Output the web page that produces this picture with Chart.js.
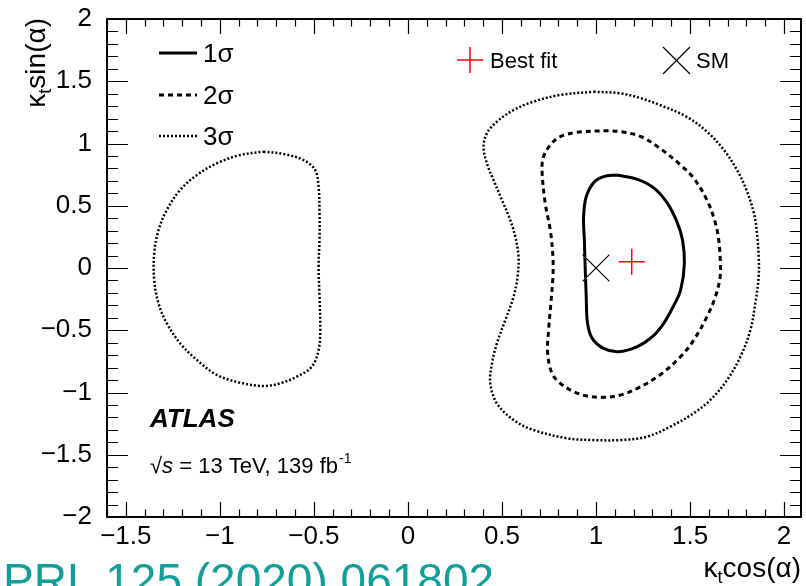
<!DOCTYPE html>
<html>
<head>
<meta charset="utf-8">
<script src="https://cdn.jsdelivr.net/npm/chart.js@4.4.1/dist/chart.umd.min.js"></script>
<style>
  html, body { margin: 0; padding: 0; background: #fff; }
  #wrap { width: 806px; height: 586px; position: relative; }
</style>
</head>
<body>
<div id="wrap"><canvas id="c" width="806" height="586"></canvas></div>
<script>
// axes
const xTicks = [-1.5, -1, -0.5, 0, 0.5, 1, 1.5, 2];
const yTicks = [-2, -1.5, -1, -0.5, 0, 0.5, 1, 1.5, 2];
const xRange = [-1.6, 2.09];
const yRange = [-2, 2];

// 1 sigma contour
const sigma1X = [1.11, 1.22, 1.31, 1.38, 1.43, 1.46, 1.47, 1.45, 1.41, 1.36, 1.30, 1.22, 1.12, 1.04, 0.98, 0.955, 0.948, 0.943, 0.938, 0.934, 0.948, 0.987, 1.04];
const sigma1Y = [0.747, 0.712, 0.64, 0.519, 0.372, 0.225, 0.037, -0.177, -0.311, -0.444, -0.552, -0.632, -0.672, -0.645, -0.565, -0.444, -0.23, -0.016, 0.225, 0.412, 0.573, 0.685, 0.734];

// 2 sigma contour
const sigma2X = [1.04, 1.13, 1.24, 1.34, 1.45, 1.52, 1.59, 1.63, 1.65, 1.66, 1.66, 1.635, 1.59, 1.52, 1.45, 1.34, 1.22, 1.13, 1.04, 0.952, 0.881, 0.81, 0.766, 0.743, 0.748, 0.76, 0.771, 0.771, 0.757, 0.73, 0.713, 0.721, 0.757, 0.81, 0.899];
const sigma2Y = [1.103, 1.095, 1.055, 0.961, 0.827, 0.72, 0.546, 0.386, 0.252, 0.091, -0.07, -0.23, -0.391, -0.578, -0.712, -0.859, -0.967, -1.02, -1.039, -1.028, -0.993, -0.926, -0.846, -0.685, -0.498, -0.284, -0.07, 0.091, 0.305, 0.519, 0.787, 0.894, 0.988, 1.055, 1.09];

// 3 sigma contour, right island
const sigma3RX = [0.987, 1.13, 1.24, 1.34, 1.48, 1.59, 1.68, 1.75, 1.80, 1.84, 1.856, 1.865, 1.865, 1.847, 1.821, 1.768, 1.697, 1.608, 1.519, 1.395, 1.271, 1.129, 0.987, 0.846, 0.668, 0.562, 0.473, 0.438, 0.447, 0.473, 0.518, 0.562, 0.583, 0.588, 0.571, 0.544, 0.5, 0.455, 0.42, 0.402, 0.42, 0.473, 0.562, 0.668, 0.81];
const sigma3RY = [1.416, 1.403, 1.363, 1.309, 1.216, 1.095, 0.948, 0.787, 0.627, 0.439, 0.278, 0.091, -0.07, -0.284, -0.498, -0.712, -0.9, -1.06, -1.167, -1.274, -1.355, -1.382, -1.382, -1.368, -1.301, -1.221, -1.087, -0.926, -0.766, -0.605, -0.418, -0.23, -0.07, 0.091, 0.252, 0.386, 0.546, 0.707, 0.84, 0.975, 1.082, 1.175, 1.269, 1.336, 1.39];

// 3 sigma contour, left island
const sigma3LX = [-0.768, -0.662, -0.555, -0.493, -0.475, -0.47, -0.47, -0.475, -0.47, -0.466, -0.475, -0.511, -0.591, -0.679, -0.768, -0.892, -1.016, -1.122, -1.211, -1.282, -1.326, -1.349, -1.349, -1.326, -1.282, -1.211, -1.122, -1.016, -0.892];
const sigma3LY = [0.934, 0.916, 0.867, 0.787, 0.653, 0.439, 0.225, 0.011, -0.23, -0.498, -0.659, -0.793, -0.873, -0.926, -0.948, -0.921, -0.859, -0.739, -0.605, -0.444, -0.284, -0.096, 0.118, 0.305, 0.466, 0.627, 0.747, 0.841, 0.908];

const bestFitX = [1.19];
const bestFitY = [0.05];
const smX = [1];
const smY = [0];

const FONT = '"Liberation Sans", Arial, Helvetica, sans-serif';

function loop(xs, ys) {
  const p = xs.map((x, i) => ({ x: x, y: ys[i] }));
  p.push({ x: xs[0], y: ys[0] });
  return p;
}
function pts(xs, ys) {
  return xs.map((x, i) => ({ x: x, y: ys[i] }));
}
function fmt(v) {
  return v < 0 ? '\u2212' + Math.abs(v) : String(v);
}

const contour = (label, data, width, dash) => ({
  label: label, data: data, showLine: true, fill: false,
  borderColor: '#000', borderWidth: width, borderDash: dash,
  pointRadius: 0, pointHoverRadius: 0, tension: 0.35
});

const frameAndText = {
  id: 'frameAndText',
  afterDraw(chart) {
    const ctx = chart.ctx;
    const a = chart.chartArea;
    const xs = chart.scales.x, ys = chart.scales.y;
    ctx.save();

    // inward ticks
    ctx.strokeStyle = '#000';
    ctx.lineWidth = 1.2;
    ctx.beginPath();
    for (let i = -16; i <= 20; i++) {
      const px = Math.round(xs.getPixelForValue(i / 10)) + 0.5;
      const len = i % 5 === 0 ? 15 : 7.5;
      ctx.moveTo(px, a.bottom); ctx.lineTo(px, a.bottom - len);
      ctx.moveTo(px, a.top); ctx.lineTo(px, a.top + len);
    }
    for (let i = -20; i <= 20; i++) {
      const py = Math.round(ys.getPixelForValue(i / 10)) + 0.5;
      const len = i % 5 === 0 ? 21 : 11;
      ctx.moveTo(a.left, py); ctx.lineTo(a.left + len, py);
      ctx.moveTo(a.right, py); ctx.lineTo(a.right - len, py);
    }
    ctx.stroke();

    // frame
    ctx.lineWidth = 2;
    ctx.strokeRect(a.left, a.top, a.right - a.left, a.bottom - a.top);

    // legend: contour lines
    const rows = [
      { y: 53, w: 3, dash: [], t: '1\u03c3' },
      { y: 95, w: 3, dash: [5, 4], t: '2\u03c3' },
      { y: 136, w: 2.5, dash: [2, 2], t: '3\u03c3' }
    ];
    ctx.fillStyle = '#000';
    ctx.textBaseline = 'alphabetic';
    ctx.textAlign = 'left';
    rows.forEach(r => {
      ctx.lineWidth = r.w;
      ctx.setLineDash(r.dash);
      ctx.beginPath();
      ctx.moveTo(159, r.y); ctx.lineTo(197, r.y);
      ctx.stroke();
      ctx.setLineDash([]);
      ctx.font = '26px ' + FONT;
      ctx.fillText(r.t, 203, r.y + 9);
    });

    // legend: markers
    ctx.lineWidth = 1.5;
    ctx.strokeStyle = '#ff0000';
    ctx.beginPath();
    ctx.moveTo(457, 60); ctx.lineTo(483, 60);
    ctx.moveTo(470, 47); ctx.lineTo(470, 73);
    ctx.stroke();
    ctx.strokeStyle = '#000';
    ctx.lineWidth = 1.2;
    ctx.beginPath();
    ctx.moveTo(663, 47); ctx.lineTo(690, 74);
    ctx.moveTo(663, 74); ctx.lineTo(690, 47);
    ctx.stroke();
    ctx.font = '22px ' + FONT;
    ctx.fillText('Best fit', 490, 68);
    ctx.fillText('SM', 696, 68);

    // ATLAS label
    ctx.font = 'italic bold 26px ' + FONT;
    ctx.fillText('ATLAS', 150, 427);
    let x = 150;
    ctx.font = '22px ' + FONT;
    ctx.fillText('\u221a', x, 473); x += ctx.measureText('\u221a').width;
    ctx.font = 'italic 22px ' + FONT;
    ctx.fillText('s', x, 473); x += ctx.measureText('s').width;
    ctx.font = '22px ' + FONT;
    const main = ' = 13 TeV, 139 fb';
    ctx.fillText(main, x, 473); x += ctx.measureText(main).width;
    ctx.font = '14px ' + FONT;
    ctx.fillText('-1', x + 1, 463);

    // axis titles
    function drawTitle(rest, xEnd, base) {
      ctx.font = '28px ' + FONT;
      const w1 = ctx.measureText('\u03ba').width;
      const w3 = ctx.measureText(rest).width;
      ctx.font = '18px ' + FONT;
      const w2 = ctx.measureText('t').width;
      let xx = xEnd - (w1 + w2 + w3);
      ctx.font = '28px ' + FONT;
      ctx.fillText('\u03ba', xx, base); xx += w1;
      ctx.font = '18px ' + FONT;
      ctx.fillText('t', xx, base + 6); xx += w2;
      ctx.font = '28px ' + FONT;
      ctx.fillText(rest, xx, base);
    }
    drawTitle('cos(\u03b1)', 801, 577);
    ctx.save();
    ctx.translate(45, 18);
    ctx.rotate(-Math.PI / 2);
    drawTitle('sin(\u03b1)', 0, 0);
    ctx.restore();

    // journal reference
    ctx.fillStyle = '#149e9a';
    ctx.font = '46px ' + FONT;
    ctx.fillText('PRL 125 (2020) 061802', 3, 596);

    ctx.restore();
  }
};

new Chart(document.getElementById('c').getContext('2d'), {
  type: 'scatter',
  data: {
    datasets: [
      contour('3\u03c3', loop(sigma3RX, sigma3RY), 2.5, [2, 2]),
      contour('3\u03c3 left', loop(sigma3LX, sigma3LY), 2.5, [2, 2]),
      contour('2\u03c3', loop(sigma2X, sigma2Y), 3, [5, 4]),
      contour('1\u03c3', loop(sigma1X, sigma1Y), 3, []),
      {
        label: 'Best fit', data: pts(bestFitX, bestFitY),
        pointStyle: 'cross', pointRadius: 13, pointBorderColor: '#ff0000',
        pointBorderWidth: 1.5, borderColor: '#ff0000', showLine: false
      },
      {
        label: 'SM', data: pts(smX, smY),
        pointStyle: 'crossRot', pointRadius: 19, pointBorderColor: '#000',
        pointBorderWidth: 1.2, borderColor: '#000', showLine: false
      }
    ]
  },
  options: {
    responsive: false,
    animation: false,
    devicePixelRatio: 1,
    layout: { autoPadding: false, padding: { left: 0, right: 5, top: 19, bottom: 0 } },
    plugins: { legend: { display: false }, tooltip: { enabled: false } },
    scales: {
      x: {
        type: 'linear', position: 'bottom', min: xRange[0], max: xRange[1],
        grid: { display: false }, border: { display: false },
        ticks: {
          color: '#000', font: { family: FONT, size: 26 }, padding: -4,
          autoSkip: false, maxRotation: 0, callback: v => fmt(v)
        },
        afterBuildTicks: s => { s.ticks = xTicks.map(v => ({ value: v })); },
        afterFit: s => { s.height = 69; s.paddingLeft = 0; s.paddingRight = 0; }
      },
      y: {
        type: 'linear', position: 'left', min: yRange[0], max: yRange[1],
        grid: { display: false }, border: { display: false },
        ticks: {
          color: '#000', font: { family: FONT, size: 26 }, padding: 7,
          autoSkip: false, callback: v => fmt(v)
        },
        afterBuildTicks: s => { s.ticks = yTicks.map(v => ({ value: v })); },
        afterFit: s => { s.width = 107; s.paddingTop = 0; s.paddingBottom = 0; }
      }
    }
  },
  plugins: [frameAndText]
});
</script>
</body>
</html>
